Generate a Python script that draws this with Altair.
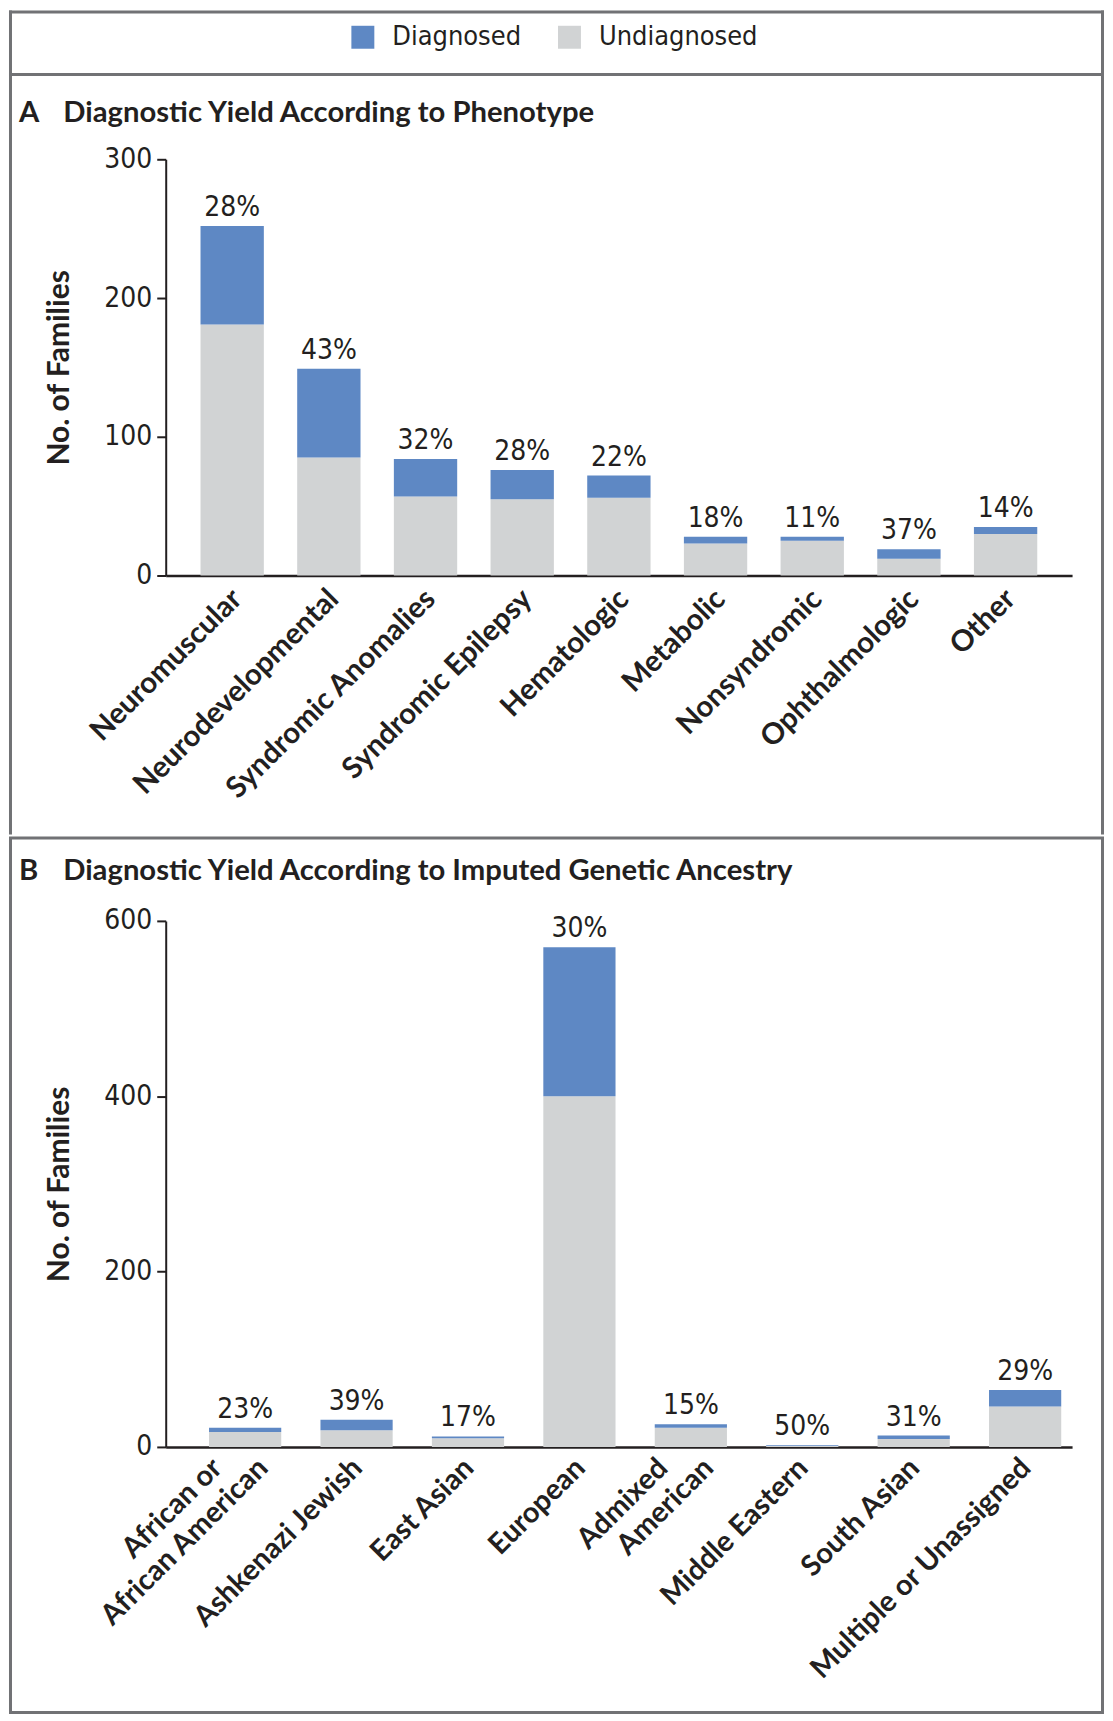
import altair as alt
import pandas as pd

# ---------------- data ----------------
cats_a = ["Neuromuscular", "Neurodevelopmental", "Syndromic Anomalies", "Syndromic Epilepsy",
          "Hematologic", "Metabolic", "Nonsyndromic", "Ophthalmologic", "Other"]
diag_a = [71, 64, 27, 21, 16, 5, 3, 7, 5]
undiag_a = [181, 85, 57, 55, 56, 23, 25, 12, 30]
pct_a = ["28%", "43%", "32%", "28%", "22%", "18%", "11%", "37%", "14%"]
yticks_a = [0, 100, 200, 300]

cats_b = ["African or|African American", "Ashkenazi Jewish", "East Asian", "European",
          "Admixed|American", "Middle Eastern", "South Asian", "Multiple or Unassigned"]
diag_b = [5, 12, 2, 170, 4, 1, 4, 19]
undiag_b = [17, 19, 10, 400, 22, 1, 9, 46]
pct_b = ["23%", "39%", "17%", "30%", "15%", "50%", "31%", "29%"]
yticks_b = [0, 200, 400, 600]

statuses = ["Diagnosed", "Undiagnosed"]
status_colors = ["#5e88c4", "#d1d3d4"]

title_a = "A\u00a0\u00a0\u00a0\u2009Diagnostic Yield According to Phenotype"
title_b = "B\u00a0\u00a0\u00a0\u2009Diagnostic Yield According to Imputed Genetic Ancestry"

# ---------------- style ----------------
NUM = "Liberation Sans Narrow, DejaVu Sans Condensed, Liberation Sans, sans-serif"
LAB = "Lato, Open Sans, sans-serif"
INK = "#231f20"
FRAME = "#717275"
W = 908
H_A = 417
H_B = 527


def bars_long(cats, diag, undiag):
    rows = []
    for c, d, u in zip(cats, diag, undiag):
        rows.append({"cat": c, "status": statuses[1], "n": u, "ord": 0})
        rows.append({"cat": c, "status": statuses[0], "n": d, "ord": 1})
    return pd.DataFrame(rows)


def totals(cats, diag, undiag, pct):
    return pd.DataFrame({"cat": cats,
                         "total": [d + u for d, u in zip(diag, undiag)],
                         "pct": pct})


def yaxis(vals, h):
    return alt.Axis(values=vals, title="No. of Families", grid=False,
                    titleFont=LAB, titleFontWeight="bold", titleFontSize=30, titleColor=INK,
                    titleAngle=270, titleAlign="center", titleBaseline="middle",
                    titleX=-106, titleY=h / 2,
                    labelFont=NUM, labelFontSize=28, labelColor=INK, labelPadding=5,
                    tickSize=9, tickWidth=2, tickColor=INK, domainColor=INK, domainWidth=2)


def xaxis(size, pad, off, expr, domain=True):
    return alt.Axis(title=None, orient="bottom", ticks=False, labelAngle=315, labelAlign="right",
                    labelBaseline="middle", labelFont=LAB, labelFontWeight="bold",
                    labelFontSize=size, labelColor=INK,
                    labelPadding=pad, labelOffset=off, labelLimit=1000, labelOverlap=False,
                    labelExpr=expr, domain=domain, domainColor=INK, domainWidth=2.5)


one = pd.DataFrame({"k": [0]})


def panel(cats, diag, undiag, pct, yticks, h, xax, xax2, xscale, legend, title, title_dy, extra):
    yscale = alt.Scale(domain=[yticks[0], yticks[-1]], nice=False)
    yax = yaxis(yticks, h)
    bars = alt.Chart(bars_long(cats, diag, undiag)).mark_bar().encode(
        x=alt.X("cat:N", sort=cats, scale=xscale, axis=xax),
        y=alt.Y("n:Q", stack="zero", scale=yscale, axis=yax),
        color=alt.Color("status:N", scale=alt.Scale(domain=statuses, range=status_colors),
                        legend=legend),
        order=alt.Order("ord:Q", sort="ascending"),
    )
    labels = alt.Chart(totals(cats, diag, undiag, pct)).mark_text(
        font=NUM, fontSize=28, color=INK, baseline="alphabetic", dy=-10
    ).encode(
        x=alt.X("cat:N", sort=cats, scale=xscale, axis=xax2),
        y=alt.Y("total:Q", scale=yscale, axis=yax),
        text="pct:N",
    )
    layered = alt.layer(bars, labels, *extra).properties(
        width=W, height=h,
        title=alt.TitleParams(text=title, anchor="start", frame="group", dx=-147, dy=title_dy,
                              offset=0, font=LAB, fontWeight="bold", fontSize=29.3, color=INK,
                              baseline="alphabetic"),
    )
    if xax2 is not xax:
        layered = layered.resolve_axis(x="independent")
    return layered


def rule(**enc):
    return alt.Chart(one).mark_rule(stroke=FRAME, strokeWidth=3, strokeCap="square").encode(
        **{k: alt.value(v) for k, v in enc.items()})


# frames (decoration only): A = top, sides, legend separator ; B = full box
L, R = -155.5, 938.5
frame_a = [rule(x=L, x2=R, y=-147.5), rule(x=L, y=-147.5, y2=675),
           rule(x=R, y=-147.5, y2=675), rule(x=L, x2=R, y=-85)]
frame_b = [alt.Chart(one).mark_rect(filled=False, stroke=FRAME, strokeWidth=3).encode(
    x=alt.value(L), x2=alt.value(R), y=alt.value(-83), y2=alt.value(793))]

legend_a = alt.Legend(title=None, orient="none", legendX=184, legendY=-136,
                      direction="horizontal", symbolType="square", symbolSize=529,
                      symbolStrokeWidth=0, symbolOpacity=1, labelFont=NUM, labelFontSize=27,
                      labelColor=INK, labelOffset=16, columnPadding=34, padding=0,
                      labelLimit=400)

xax_a = xaxis(29.5, 18.5, 5, "datum.label")

# panel B: first line of every label on one axis, second line of two-line labels on another
two_line = "indexof(datum.value, '|') >= 0"
xax_b1 = xaxis(29, 16, {"condition": {"test": two_line, "value": -28}, "value": 1},
               "split(datum.label, '|')[0]")
xax_b2 = xaxis(29, 16, 18,
               "indexof(datum.label, '|') >= 0 ? split(datum.label, '|')[1] : ''",
               domain=False)

panel_a = panel(cats_a, diag_a, undiag_a, pct_a, yticks_a, H_A, xax_a, xax_a,
                alt.Scale(paddingInner=0.345, paddingOuter=0.36),
                legend_a, title_a, 142, frame_a)

panel_b = panel(cats_b, diag_b, undiag_b, pct_b, yticks_b, H_B, xax_b1, xax_b2,
                alt.Scale(paddingInner=0.352, paddingOuter=0.243, align=0.8),
                None, title_b, 72.5, frame_b)

chart = alt.vconcat(panel_a, panel_b, spacing=0).resolve_scale(
    x="independent", y="independent", color="independent"
).configure_view(strokeWidth=0).properties(padding=0, background="white")

chart.save("out.html", embed_options={"renderer": "svg", "actions": False})
